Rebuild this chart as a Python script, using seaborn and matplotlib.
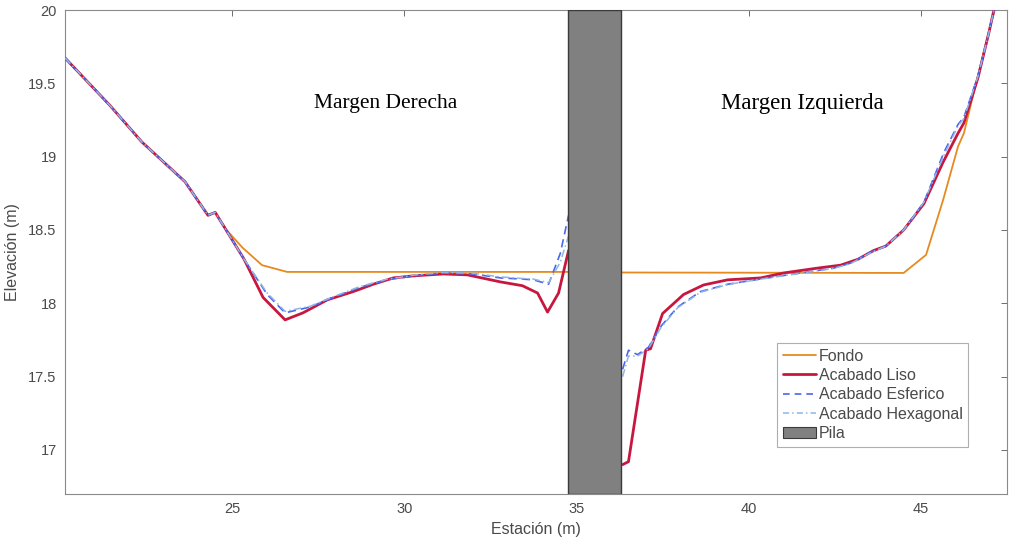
import numpy as np
import pandas as pd
import matplotlib
matplotlib.use("Agg")
import matplotlib.pyplot as plt
import seaborn as sns
from matplotlib.patches import Patch
from matplotlib.lines import Line2D

# ---------------- data ----------------
# shared left bank profile (all series coincide here)
bank_x = [20.15, 21.45, 22.38, 23.63, 24.30, 24.51, 24.80]
bank_y = [19.673, 19.35, 19.10, 18.83, 18.60, 18.62, 18.51]

# Fondo (bed)
fondo_left_x = [25.30, 25.87, 26.60, 34.75]
fondo_left_y = [18.38, 18.26, 18.214, 18.214]
fondo_right_x = [36.30, 44.50, 45.15, 45.64, 46.08, 46.25, 46.60, 46.98, 47.18]
fondo_right_y = [18.210, 18.207, 18.33, 18.70, 19.07, 19.16, 19.50, 19.86, 20.03]

# Acabado Liso
liso_left_x = [25.35, 25.90, 26.54, 27.06, 27.76, 28.52, 29.10, 29.68, 30.26, 31.13,
               31.83, 32.79, 33.43, 33.87, 34.16, 34.48, 34.77]
liso_left_y = [18.30, 18.04, 17.887, 17.935, 18.023, 18.08, 18.13, 18.173, 18.187, 18.20,
               18.194, 18.146, 18.12, 18.07, 17.94, 18.07, 18.36]
liso_right_x = [36.34, 36.51, 37.01, 37.15, 37.50, 38.11, 38.69, 39.39, 40.35, 41.02,
                42.00, 42.67, 43.17, 43.63, 43.98, 44.50, 45.09, 45.64, 46.08, 46.25,
                46.66, 46.98, 47.12, 47.20]
liso_right_y = [16.90, 16.92, 17.68, 17.69, 17.93, 18.06, 18.125, 18.16, 18.173, 18.207,
                18.24, 18.26, 18.30, 18.36, 18.39, 18.50, 18.68, 18.96, 19.16, 19.23,
                19.54, 19.85, 20.00, 20.05]

# Acabado Esferico
esf_left_x = [25.35, 26.02, 26.54, 27.27, 27.94, 28.72, 29.51, 30.38, 31.13, 32.00,
              32.79, 33.37, 33.75, 34.19, 34.53, 34.77]
esf_left_y = [18.30, 18.06, 17.935, 17.975, 18.04, 18.11, 18.16, 18.19, 18.207, 18.20,
              18.173, 18.166, 18.16, 18.13, 18.34, 18.60]
esf_right_x = [36.34, 36.51, 36.77, 37.09, 37.44, 37.94, 38.60, 39.39, 40.35, 41.51,
               42.47, 42.97, 43.46, 43.98, 44.50, 45.09, 45.67, 46.08, 46.25, 46.66,
               46.98, 47.12, 47.20]
esf_right_y = [17.55, 17.68, 17.65, 17.70, 17.84, 17.975, 18.08, 18.13, 18.166, 18.207,
               18.24, 18.275, 18.34, 18.39, 18.50, 18.69, 19.03, 19.22, 19.27,
               19.55, 19.85, 20.00, 20.05]

# Acabado Hexagonal
hex_left_x = [25.35, 26.02, 26.54, 27.27, 27.94, 28.72, 29.51, 30.38, 31.13, 32.00,
              32.79, 33.37, 33.75, 34.19, 34.53, 34.77]
hex_left_y = [18.30, 18.07, 17.945, 17.98, 18.045, 18.115, 18.165, 18.195, 18.21, 18.205,
              18.18, 18.17, 18.165, 18.14, 18.28, 18.46]
hex_right_x = [36.34, 36.51, 36.77, 37.09, 37.44, 37.94, 38.60, 39.39, 40.35, 41.51,
               42.47, 42.97, 43.46, 43.98, 44.50, 45.09, 45.67, 46.08, 46.25, 46.66,
               46.98, 47.12, 47.20]
hex_right_y = [17.50, 17.64, 17.64, 17.69, 17.83, 17.97, 18.075, 18.128, 18.165, 18.205,
               18.238, 18.272, 18.335, 18.39, 18.50, 18.69, 19.01, 19.21, 19.26,
               19.55, 19.85, 20.00, 20.05]

# Pila (pier) bounds
pila_x = [34.75, 36.30]

labels = ["Fondo", "Acabado Liso", "Acabado Esferico", "Acabado Hexagonal", "Pila"]
x_ticks = [25, 30, 35, 40, 45]
y_ticks = [17, 17.5, 18, 18.5, 19, 19.5, 20]

# ---------------- style ----------------
sns.set_style("white")
plt.rcParams["font.family"] = ["Liberation Sans", "DejaVu Sans"]

c_fondo = "#E68A1F"
c_liso = "#C8173F"
c_esf = "#4A66F0"
c_hex = "#8DB6E6"
c_pila = "#808080"
txt = "#4a4a4a"

fig = plt.figure(figsize=(10.10, 5.41), dpi=100)
ax = fig.add_axes([0.0644, 0.087, 0.9326, 0.8945])

def seg(xs, ys, **kw):
    df = pd.DataFrame({"x": xs, "y": ys})
    sns.lineplot(data=df, x="x", y="y", sort=False, estimator=None, ax=ax, **kw)

# pier
ax.axvspan(pila_x[0], pila_x[1], facecolor=c_pila, edgecolor="#3a3a3a", linewidth=1.0, zorder=5)

# Fondo
seg(bank_x + fondo_left_x, bank_y + fondo_left_y, color=c_fondo, linewidth=1.3, zorder=2)
seg(fondo_right_x, fondo_right_y, color=c_fondo, linewidth=1.3, zorder=2)
# Liso
seg(bank_x + liso_left_x, bank_y + liso_left_y, color=c_liso, linewidth=2.0, zorder=3)
seg(liso_right_x, liso_right_y, color=c_liso, linewidth=2.0, zorder=3)
# Esferico
seg(bank_x + esf_left_x, bank_y + esf_left_y, color=c_esf, linewidth=1.2, linestyle=(0, (5, 3)), zorder=4)
seg(esf_right_x, esf_right_y, color=c_esf, linewidth=1.2, linestyle=(0, (5, 3)), zorder=4)
# Hexagonal
seg(bank_x + hex_left_x, bank_y + hex_left_y, color=c_hex, linewidth=1.1, linestyle=(0, (5, 2, 1, 2)), zorder=4)
seg(hex_right_x, hex_right_y, color=c_hex, linewidth=1.1, linestyle=(0, (5, 2, 1, 2)), zorder=4)

ax.set_xlim(20.15, 47.5)
ax.set_ylim(16.7, 20)
ax.set_xticks(x_ticks)
ax.set_xticklabels([str(v) for v in x_ticks])
ax.set_yticks(y_ticks)
ax.set_yticklabels(["17", "17.5", "18", "18.5", "19", "19.5", "20"])
ax.tick_params(direction="in", length=4, width=0.6, colors="#555555", labelcolor=txt,
               labelsize=10.5, top=True, right=True, pad=6)
for s in ax.spines.values():
    s.set_color("#8a8a8a")
    s.set_linewidth(0.8)
ax.set_xlabel("Estación (m)", fontsize=11.5, color=txt, labelpad=4)
ax.set_ylabel("Elevación (m)", fontsize=11.5, color=txt, labelpad=6)

ax.text(29.45, 19.36, "Margen Derecha", family="Liberation Serif", fontsize=15.5,
        ha="center", va="center", color="black")
ax.text(41.57, 19.36, "Margen Izquierda", family="Liberation Serif", fontsize=16.5,
        ha="center", va="center", color="black")

handles = [
    Line2D([], [], color=c_fondo, linewidth=1.3),
    Line2D([], [], color=c_liso, linewidth=2.0),
    Line2D([], [], color=c_esf, linewidth=1.2, linestyle=(0, (4, 3))),
    Line2D([], [], color=c_hex, linewidth=1.1, linestyle=(0, (4, 2, 1, 2))),
    Patch(facecolor=c_pila, edgecolor="#3a3a3a", linewidth=0.8),
]
leg = ax.legend(handles, labels, loc="lower right", bbox_to_anchor=(0.9586, 0.097),
                fontsize=11.5, frameon=True, fancybox=False, borderpad=0.35,
                handlelength=2.1, handletextpad=0.15, labelspacing=0.28, borderaxespad=0)
leg.get_frame().set_edgecolor("#9a9a9a")
leg.get_frame().set_linewidth(0.8)
for t in leg.get_texts():
    t.set_color(txt)

fig.savefig("out.png", dpi=100)
